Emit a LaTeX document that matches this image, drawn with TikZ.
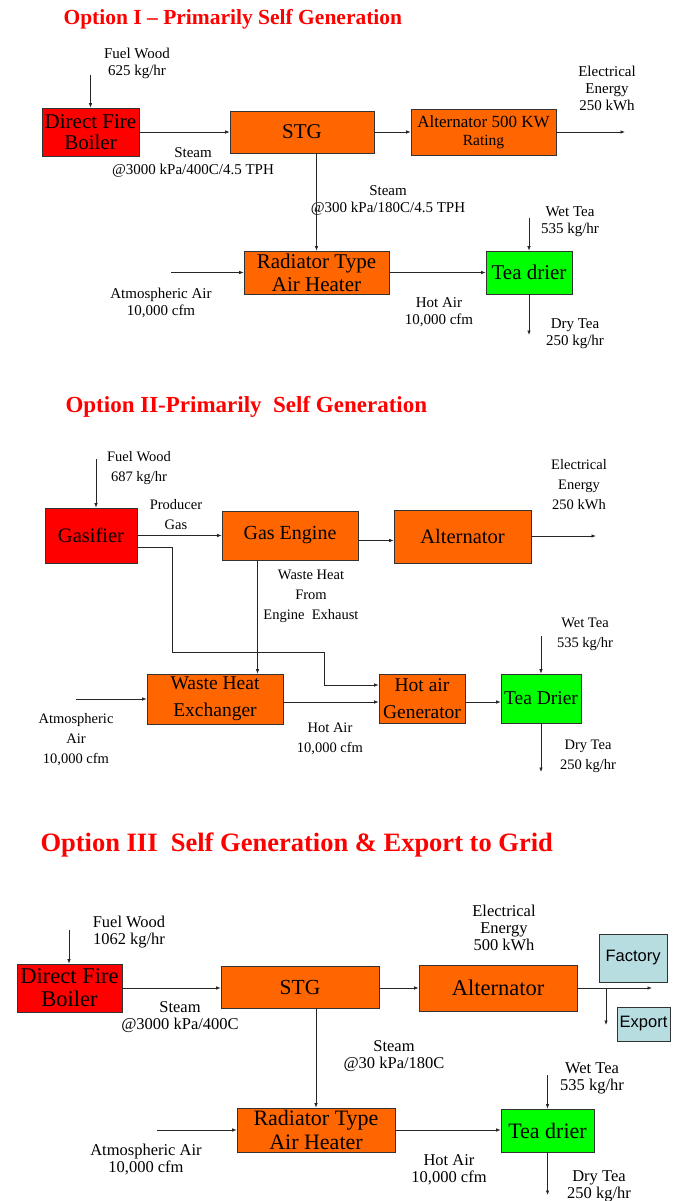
\documentclass[tikz,border=0pt]{standalone}
\usepackage{fontspec}
\setmainfont{Liberation Serif}
\newfontfamily\gridfont{Liberation Sans}
\usetikzlibrary{positioning,arrows.meta}
\definecolor{heat}{HTML}{FF6600}
\definecolor{fire}{HTML}{FF0000}
\definecolor{leaf}{HTML}{00FF00}
\definecolor{grid}{HTML}{B7DDE1}

\begin{document}
\begin{tikzpicture}[x=1pt, y=-1pt, >={Latex[length=4.5pt,width=3.5pt]},
    unit/.style={draw=black!80, line width=0.7pt, rectangle, fill=heat, align=center, inner sep=0.5pt},
    flow/.style={->, draw=black!85, line width=0.7pt},
    pipe/.style={draw=black!85, line width=0.7pt},
    title/.style={anchor=west, text=fire, font=\bfseries\fontsize{#1}{#1}\selectfont},
    tagA/.style={align=center, inner sep=0pt, font=\fontsize{15}{17}\selectfont},
    tagB/.style={align=center, inner sep=0pt, font=\fontsize{14.5}{20}\selectfont},
    tagC/.style={align=center, inner sep=0pt, font=\fontsize{16.5}{17}\selectfont}]
    \fill[white] (0,0) rectangle (672,1201);
    \useasboundingbox (0,0) rectangle (672,1201);

    % ---- Option I ----
    \node[title=21.5] (title1) at (60,19) {Option I -- Primarily Self Generation};
    % Nodes
    \node[unit, fill=fire, minimum width=97, minimum height=48, font=\fontsize{21}{21}\selectfont] (boiler1) at (90.5,132) {Direct Fire\\Boiler};
    \node[unit, minimum width=144, minimum height=42, font=\fontsize{21}{21}\selectfont] (stg1) at (302,132) {STG};
    \node[unit, minimum width=145, minimum height=46, font=\fontsize{17}{18}\selectfont] (alt1) at (483.5,132) {Alternator 500 KW\\{\fontsize{15.5}{16}\selectfont Rating}};
    \node[unit, minimum width=145, minimum height=43, font=\fontsize{21}{23}\selectfont] (rad1) at (316.5,272.5) {Radiator Type\\Air Heater};
    \node[unit, fill=leaf, minimum width=86, minimum height=43, font=\fontsize{21}{21}\selectfont] (drier1) at (529,272.5) {Tea drier};
    \coordinate (fuel1) at (90.5,75);
    \coordinate (elec1) at (625,132);
    \coordinate (air1) at (171,272.5);
    \coordinate (wet1) at (529,218);
    \coordinate (dry1) at (529,335);
    % Labels
    \node[tagA] (fuelTag1) at (137,63.5) {Fuel Wood\\625 kg/hr};
    \node[tagA] (steamTag1) at (193,162.5) {Steam\\@3000 kPa/400C/4.5 TPH};
    \node[tagA] (elecTag1) at (607,88.5) {Electrical\\Energy\\250 kWh};
    \node[tagA] (lowTag1) at (388,200) {Steam\\@300 kPa/180C/4.5 TPH};
    \node[tagA] (airTag1) at (161,302.5) {Atmospheric Air\\10,000 cfm};
    \node[tagA] (hotTag1) at (439,312) {Hot Air\\10,000 cfm};
    \node[tagA] (wetTag1) at (570,221.5) {Wet Tea\\535 kg/hr};
    \node[tagA] (dryTag1) at (575,334) {Dry Tea\\250 kg/hr};
    % Arrows
    \draw[flow] (fuel1) -- (boiler1.north);
    \draw[flow] (boiler1) -- (stg1);
    \draw[flow] (stg1) -- (alt1);
    \draw[flow] (alt1) -- (elec1);
    \draw[flow] (rad1.north |- stg1.south) -- (rad1.north);
    \draw[flow] (air1) -- (rad1);
    \draw[flow] (rad1) -- (drier1);
    \draw[flow] (wet1) -- (drier1.north);
    \draw[flow] (drier1.south) -- (dry1);

    % ---- Option II ----
    \node[title=23] (title2) at (62,407) {Option II-Primarily\ \ Self Generation};
    % Nodes
    \node[unit, fill=fire, minimum width=92, minimum height=55, font=\fontsize{20.5}{26}\selectfont] (gas2) at (91,535.5) {Gasifier};
    \node[unit, minimum width=136, minimum height=49, font=\fontsize{20}{26}\selectfont] (eng2) at (290,535.5) {Gas Engine};
    \node[unit, minimum width=137, minimum height=53, font=\fontsize{20.5}{26}\selectfont] (alt2) at (462.5,536.5) {Alternator};
    \node[unit, minimum width=136, minimum height=50, font=\fontsize{19.5}{27}\selectfont] (wheat2) at (215,699) {Waste Heat\\Exchanger};
    \node[unit, minimum width=86, minimum height=49, font=\fontsize{19.5}{27}\selectfont] (hag2) at (422,698.5) {Hot air\\Generator};
    \node[unit, fill=leaf, minimum width=80, minimum height=49, font=\fontsize{19.5}{26}\selectfont] (drier2) at (541,698.5) {Tea Drier};
    \coordinate (fuel2) at (96,459);
    \coordinate (elec2) at (596,536);
    \coordinate (bypass2) at (172,652);
    \coordinate (drop2) at (324,685);
    \coordinate (air2) at (76,699);
    \coordinate (wet2) at (541,636);
    \coordinate (dry2) at (541,772);
    % Labels
    \node[tagB] (fuelTag2) at (139,468) {Fuel Wood\\687 kg/hr};
    \node[tagB] (gasTag2) at (176,515) {Producer\\Gas};
    \node[tagB] (elecTag2) at (579,485) {Electrical\\Energy\\250 kWh};
    \node[tagB] (wasteTag2) at (311,596) {Waste Heat\\From\\Engine\ \ Exhaust};
    \node[tagB] (airTag2) at (76,739.5) {Atmospheric\\Air\\10,000 cfm};
    \node[tagB] (hotTag2) at (330,739) {Hot Air\\10,000 cfm};
    \node[tagB] (wetTag2) at (585,634) {Wet Tea\\535 kg/hr};
    \node[tagB] (dryTag2) at (588,756) {Dry Tea\\250 kg/hr};
    % Arrows
    \draw[flow] (fuel2) -- (fuel2 |- gas2.north);
    \draw[flow] (gas2) -- (eng2);
    \draw[flow] ([yshift=-5pt]eng2.east) -- ([yshift=-5pt]eng2.east -| alt2.west);
    \draw[flow] (alt2.east |- elec2) -- (elec2);
    \draw[flow] ([yshift=-11.5pt]gas2.east) -| (bypass2) -| (drop2) -- (drop2 -| hag2.west);
    \draw[flow] ([xshift=42.5pt]wheat2.north |- eng2.south) -- ([xshift=42.5pt]wheat2.north);
    \draw[flow] (air2) -- (air2 -| wheat2.west);
    \draw[flow] ([yshift=-3pt]wheat2.east) -- ([yshift=-3pt]wheat2.east -| hag2.west);
    \draw[flow] ([yshift=-3.5pt]hag2.east) -- ([yshift=-3.5pt]hag2.east -| drier2.west);
    \draw[flow] (wet2) -- (drier2.north);
    \draw[flow] (drier2.south) -- (dry2);

    % ---- Option III ----
    \node[title=26.5] (title3) at (37,845) {Option III\ \ Self Generation \& Export to Grid};
    % Nodes
    \node[unit, fill=fire, minimum width=105, minimum height=48, font=\fontsize{22.5}{23}\selectfont] (boiler3) at (69.5,988) {Direct Fire\\Boiler};
    \node[unit, minimum width=158, minimum height=42, font=\fontsize{21.5}{22}\selectfont] (stg3) at (300,987) {STG};
    \node[unit, minimum width=158, minimum height=46, font=\fontsize{22.5}{23}\selectfont] (alt3) at (498,988) {Alternator};
    \node[unit, fill=grid, minimum width=68, minimum height=48, font=\gridfont\fontsize{16.5}{17}\selectfont] (fact3) at (633,958) {Factory};
    \node[unit, fill=grid, minimum width=53, minimum height=34, font=\gridfont\fontsize{16.5}{17}\selectfont] (exp3) at (643.5,1024) {Export};
    \node[unit, minimum width=158, minimum height=44, font=\fontsize{22}{24}\selectfont] (rad3) at (316,1130) {Radiator Type\\Air Heater};
    \node[unit, fill=leaf, minimum width=93, minimum height=43, font=\fontsize{22}{22}\selectfont] (drier3) at (547.5,1130.5) {Tea drier};
    \coordinate (fuel3) at (69,930);
    \coordinate (grid3) at (652,988);
    \coordinate (split3) at (606,988);
    \coordinate (tap3) at (606,1025);
    \coordinate (air3) at (157,1130);
    \coordinate (wet3) at (547.5,1075);
    \coordinate (dry3) at (547.5,1195);
    % Labels
    \node[tagC] (fuelTag3) at (129,932.5) {Fuel Wood\\1062 kg/hr};
    \node[tagC] (steamTag3) at (180,1017.5) {Steam\\@3000 kPa/400C};
    \node[tagC] (elecTag3) at (504,928) {Electrical\\Energy\\500 kWh};
    \node[tagC] (lowTag3) at (394,1056.5) {Steam\\@30 kPa/180C};
    \node[tagC] (airTag3) at (146,1160) {Atmospheric Air\\10,000 cfm};
    \node[tagC] (hotTag3) at (449,1169.5) {Hot Air\\10,000 cfm};
    \node[tagC] (wetTag3) at (592,1078) {Wet Tea\\535 kg/hr};
    \node[tagC] (dryTag3) at (599,1186.5) {Dry Tea\\250 kg/hr};
    % Arrows
    \draw[flow] (fuel3) -- (fuel3 |- boiler3.north);
    \draw[flow] (boiler3) -- (boiler3 -| stg3.west);
    \draw[flow] (stg3.east |- alt3) -- (alt3);
    \draw[flow] (alt3) -- (grid3);
    \draw[flow] (split3) -- (tap3);
    \draw[flow] (rad3.north |- stg3.south) -- (rad3.north);
    \draw[flow] (air3) -- (rad3);
    \draw[flow] (rad3) -- (rad3 -| drier3.west);
    \draw[flow] (wet3) -- (drier3.north);
    \draw[flow] (drier3.south) -- (dry3);
\end{tikzpicture}
\end{document}
